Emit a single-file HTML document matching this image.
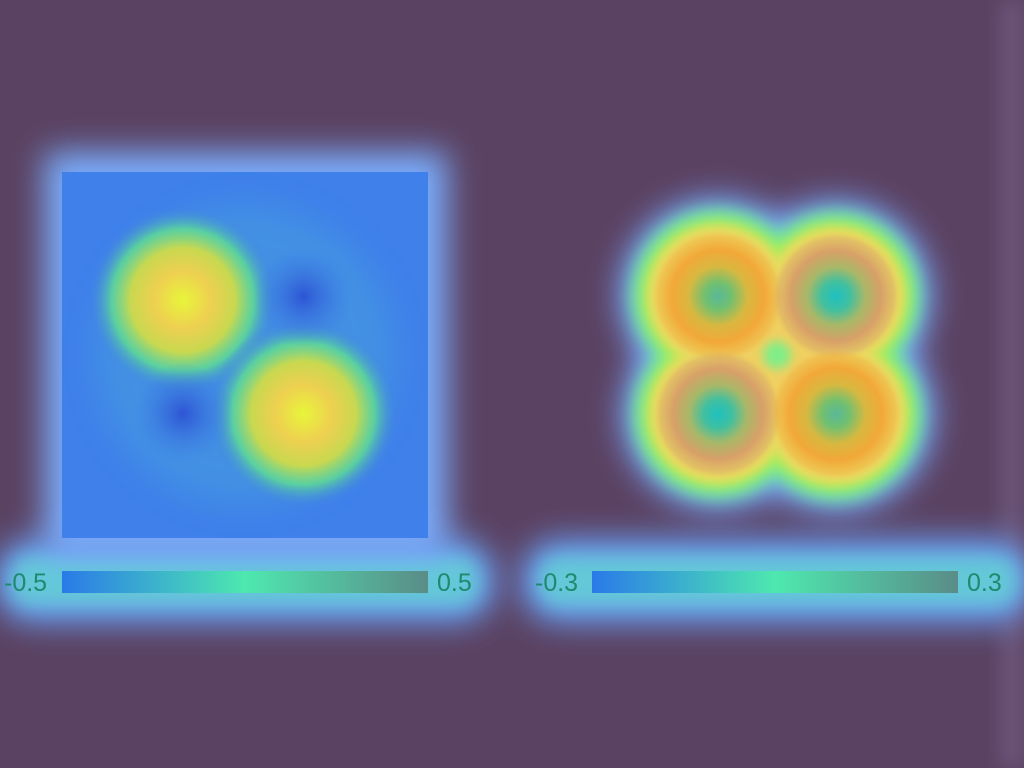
<!DOCTYPE html>
<html><head><meta charset="utf-8"><style>
html,body{margin:0;padding:0;background:#5a4262;}
svg{display:block}
text{font-family:"Liberation Sans Narrow","Liberation Sans",sans-serif;font-size:25px;fill:#1f8a6e}
</style></head><body>
<svg id="chart" width="1024" height="768" viewBox="0 0 1024 768">
<defs>
<filter id="b20" x="-50%" y="-50%" width="200%" height="200%"><feGaussianBlur stdDeviation="16"/></filter>
<filter id="b10" x="-50%" y="-50%" width="200%" height="200%"><feGaussianBlur stdDeviation="9"/></filter>
<filter id="b5" x="-50%" y="-50%" width="200%" height="200%"><feGaussianBlur stdDeviation="5"/></filter>
<radialGradient id="hot"><stop offset="0" stop-color="#e8f53a"/><stop offset="0.3" stop-color="#eed050"/><stop offset="0.55" stop-color="#c8d850"/><stop offset="0.75" stop-color="#60e090" stop-opacity="0.8"/><stop offset="1" stop-color="#3d7ae8" stop-opacity="0"/></radialGradient>
<radialGradient id="cold"><stop offset="0" stop-color="#2846d0"/><stop offset="1" stop-color="#3d7ae8" stop-opacity="0"/></radialGradient>
<radialGradient id="ringA"><stop offset="0" stop-color="#5ab898"/><stop offset="0.2" stop-color="#70c070"/><stop offset="0.45" stop-color="#d8b840"/><stop offset="0.7" stop-color="#f2a838"/><stop offset="0.9" stop-color="#f0b040" stop-opacity="0.5"/><stop offset="1" stop-color="#f0c050" stop-opacity="0"/></radialGradient>
<radialGradient id="ringB"><stop offset="0" stop-color="#20c0c0"/><stop offset="0.22" stop-color="#40c0a0"/><stop offset="0.45" stop-color="#a8b868"/><stop offset="0.7" stop-color="#d8a068"/><stop offset="0.9" stop-color="#d8a868" stop-opacity="0.5"/><stop offset="1" stop-color="#e0c060" stop-opacity="0"/></radialGradient>
<linearGradient id="cbar"><stop offset="0" stop-color="#2a7ae8"/><stop offset="0.5" stop-color="#4ee8b0"/><stop offset="1" stop-color="#5a8c88"/></linearGradient>
</defs>
<rect x="1000" y="0" width="24" height="768" fill="#6a5478" filter="url(#b10)"/>
<g>
<rect x="-5" y="540" width="500" height="82" rx="38" fill="#6aa4ff" filter="url(#b20)"/>
<rect x="10" y="556" width="470" height="50" rx="22" fill="#62d8c8" filter="url(#b10)" opacity="0.7"/>
</g>
<g>
<rect x="522" y="540" width="510" height="82" rx="38" fill="#6aa4ff" filter="url(#b20)"/>
<rect x="538" y="556" width="480" height="50" rx="22" fill="#62d8c8" filter="url(#b10)" opacity="0.7"/>
</g>
<g id="left">
<rect x="45" y="152" width="402" height="404" fill="#7aaeff" filter="url(#b20)"/>
<rect x="62" y="172" width="366" height="366" fill="#3f80ea"/>
<circle cx="245" cy="355" r="150" fill="#48b0d8" opacity="0.35" filter="url(#b20)"/>
<g id="leftBlobs"></g>
</g>
<g id="right"><g id="rightBlobs"></g></g>
<g>
<rect x="62" y="571" width="366" height="22" fill="url(#cbar)"/>
<text x="4" y="591">-0.5</text>
<text x="437" y="591">0.5</text>
</g>
<g>
<rect x="592" y="571" width="366" height="22" fill="url(#cbar)"/>
<text x="535" y="591">-0.3</text>
<text x="967" y="591">0.3</text>
</g>
</svg>
<script>
// left panel: peaks and troughs (grid coords 0..1 in the square), values
const leftX=[0.33,0.66,0.66,0.33];
const leftY=[0.35,0.66,0.34,0.66];
const leftV=[0.5,0.5,-0.3,-0.3];
// right panel lobes
const rightX=[0.3,0.7,0.3,0.7];
const rightY=[0.3,0.3,0.7,0.7];
const rightV=[0.3,0.25,0.25,0.3];
const NS='http://www.w3.org/2000/svg';
const lx=v=>62+v*366, ly=v=>172+v*366;
const rx=v=>629.5+v*295, ry=v=>207.5+v*295;
const lg=document.getElementById('leftBlobs');
leftX.forEach((x,i)=>{
  const c=document.createElementNS(NS,'circle');
  
  
  c.setAttribute('cx',lx(x));c.setAttribute('cy',ly(leftY[i]));
  c.setAttribute('r',leftV[i]>0?Math.abs(leftV[i])*190:Math.abs(leftV[i])*170);
  c.setAttribute('fill',leftV[i]>0?'url(#hot)':'url(#cold)');
  c.setAttribute('opacity',leftV[i]>0?1:0.8);
  lg.appendChild(c);
});
const rg=document.getElementById('rightBlobs');
function add(tag,attrs,name){const e=document.createElementNS(NS,tag);for(const k in attrs)e.setAttribute(k,attrs[k]);
  
  
  rg.appendChild(e);return e;}
const layers=[[98,'#7aa8ff','b20'],[86,'#58e8a8','b10'],[78,'#b8ee50','b10'],[70,'#ecd860','b5']];
layers.forEach(L=>rightX.forEach((x,i)=>add('circle',{cx:rx(x),cy:ry(rightY[i]),r:L[0]*(0.85+rightV[i]/2),fill:L[1],filter:'url(#'+L[2]+')'},'lobe-layer')));
add('rect',{x:rx(0.3),y:ry(0.3),width:rx(0.7)-rx(0.3),height:ry(0.7)-ry(0.3),fill:'#f0d060',filter:'url(#b5)'},'lobe-fill');
add('circle',{cx:rx(0.5),cy:ry(0.5),r:14,fill:'#80ee88',filter:'url(#b5)'},'center-spot');
rightX.forEach((x,i)=>add('circle',{cx:rx(x),cy:ry(rightY[i]),r:66*(0.85+rightV[i]/2),fill:(i==0||i==3)?'url(#ringA)':'url(#ringB)'},'lobe'));
</script>
</body></html>
